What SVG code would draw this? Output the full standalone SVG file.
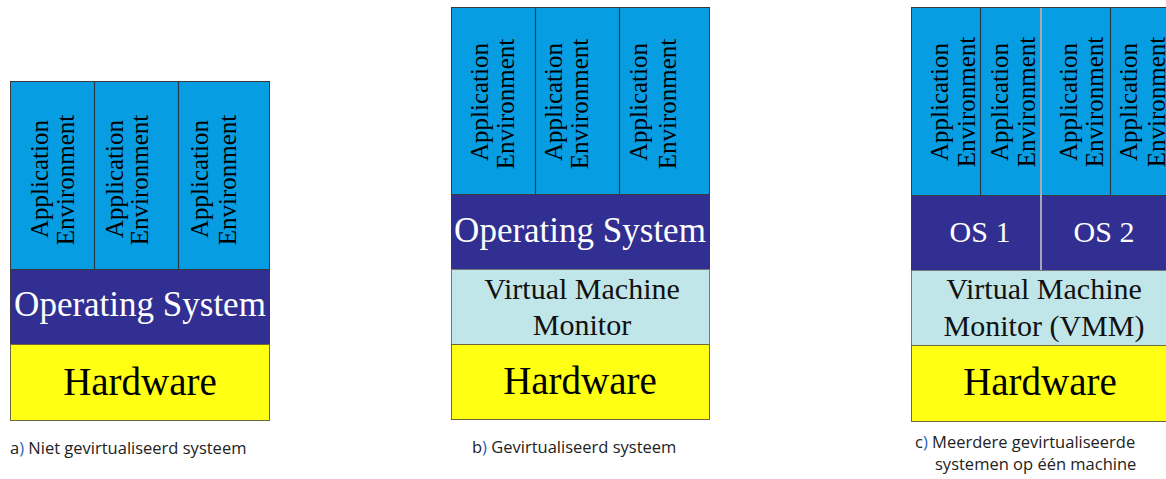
<svg xmlns="http://www.w3.org/2000/svg" width="1166" height="479" viewBox="0 0 1166 479">
  <style>
    .ae { fill: #079de3; stroke: #3a3a3a; stroke-width: 1; }
    .os { fill: #312f91; stroke: #3a3a3a; stroke-width: 1; }
    .vmm { fill: #c1e6e9; stroke: #777; stroke-width: 1; }
    .hw { fill: #ffff14; stroke: #6b6b3a; stroke-width: 1; }
    .div { stroke: #2a3a4a; stroke-width: 1.2; }
    .divl { stroke: #a8a8b0; stroke-width: 2; }
    .ser { font-family: "Liberation Serif", "Times New Roman", serif; text-anchor: middle; }
    .app { font-size: 25px; fill: #000; }
    .osT { font-size: 35px; fill: #fff; }
    .os2T { font-size: 30px; fill: #fff; }
    .vmT { font-size: 30px; fill: #111; }
    .hwT { font-size: 39px; fill: #000; }
    .cap { font-family: "Open Sans", "Liberation Sans", sans-serif; font-size: 16.5px; fill: #222; }
    .par { fill: #1f5fc0; }
  </style>

  <!-- a) non-virtualised stack -->
  <g id="stack-a">
    <rect class="ae" x="10.5" y="81.5" width="259" height="188"/>
    <line class="div" x1="94.5" y1="82" x2="94.5" y2="269"/>
    <line class="div" x1="178.5" y1="82" x2="178.5" y2="269"/>
    <text class="ser app" transform="translate(48,179) rotate(-90)">Application</text>
    <text class="ser app" transform="translate(74,180) rotate(-90)">Environment</text>
    <text class="ser app" transform="translate(123,179) rotate(-90)">Application</text>
    <text class="ser app" transform="translate(148,180) rotate(-90)">Environment</text>
    <text class="ser app" transform="translate(208,179) rotate(-90)">Application</text>
    <text class="ser app" transform="translate(236,180) rotate(-90)">Environment</text>
    <rect class="os" x="10.5" y="269.5" width="259" height="75"/>
    <text class="ser osT" x="140" y="316">Operating System</text>
    <rect class="hw" x="10.5" y="344.5" width="259" height="76"/>
    <text class="ser hwT" x="140" y="395">Hardware</text>
  </g>

  <!-- b) virtualised stack -->
  <g id="stack-b">
    <rect class="ae" x="451.5" y="7.5" width="258" height="187"/>
    <line class="div" x1="535.5" y1="8" x2="535.5" y2="194"/>
    <line class="div" x1="619.5" y1="8" x2="619.5" y2="194"/>
    <text class="ser app" transform="translate(488,102) rotate(-90)">Application</text>
    <text class="ser app" transform="translate(514,104) rotate(-90)">Environment</text>
    <text class="ser app" transform="translate(562,102) rotate(-90)">Application</text>
    <text class="ser app" transform="translate(588,104) rotate(-90)">Environment</text>
    <text class="ser app" transform="translate(647,102) rotate(-90)">Application</text>
    <text class="ser app" transform="translate(676,104) rotate(-90)">Environment</text>
    <rect class="os" x="451.5" y="194.5" width="258" height="75"/>
    <text class="ser osT" x="580" y="242">Operating System</text>
    <rect class="vmm" x="451.5" y="269.5" width="258" height="75"/>
    <text class="ser vmT" x="582" y="299">Virtual Machine</text>
    <text class="ser vmT" x="582" y="335">Monitor</text>
    <rect class="hw" x="451.5" y="344.5" width="258" height="75"/>
    <text class="ser hwT" x="580" y="394">Hardware</text>
  </g>

  <!-- c) several guest systems on one VMM -->
  <g id="stack-c">
    <rect class="ae" x="911.5" y="7.5" width="262" height="188"/>
    <line class="div" x1="980.5" y1="8" x2="980.5" y2="195"/>
    <line class="div" x1="1110.5" y1="8" x2="1110.5" y2="195"/>
    <text class="ser app" transform="translate(948,102) rotate(-90)">Application</text>
    <text class="ser app" transform="translate(975,102) rotate(-90)">Environment</text>
    <text class="ser app" transform="translate(1008,102) rotate(-90)">Application</text>
    <text class="ser app" transform="translate(1035,102) rotate(-90)">Environment</text>
    <text class="ser app" transform="translate(1077,102) rotate(-90)">Application</text>
    <text class="ser app" transform="translate(1103,102) rotate(-90)">Environment</text>
    <text class="ser app" transform="translate(1137,102) rotate(-90)">Application</text>
    <text class="ser app" transform="translate(1165,102) rotate(-90)">Environment</text>
    <rect class="os" x="911.5" y="195.5" width="262" height="75"/>
    <text class="ser os2T" x="980" y="242">OS 1</text>
    <text class="ser os2T" x="1104" y="242">OS 2</text>
    <line class="divl" x1="1041" y1="8" x2="1041" y2="270"/>
    <rect class="vmm" x="911.5" y="270.5" width="262" height="75"/>
    <text class="ser vmT" x="1044" y="299">Virtual Machine</text>
    <text class="ser vmT" x="1044" y="336">Monitor (VMM)</text>
    <rect class="hw" x="911.5" y="345.5" width="262" height="76"/>
    <text class="ser hwT" x="1040" y="395">Hardware</text>
  </g>

  <!-- captions -->
  <g id="captions">
    <text class="cap" x="10" y="454">a<tspan class="par">)</tspan> Niet gevirtualiseerd systeem</text>
    <text class="cap" x="472" y="453">b<tspan class="par">)</tspan> Gevirtualiseerd systeem</text>
    <text class="cap" x="915" y="448">c<tspan class="par">)</tspan> Meerdere gevirtualiseerde</text>
    <text class="cap" x="935" y="470">systemen op één machine</text>
  </g>
</svg>
